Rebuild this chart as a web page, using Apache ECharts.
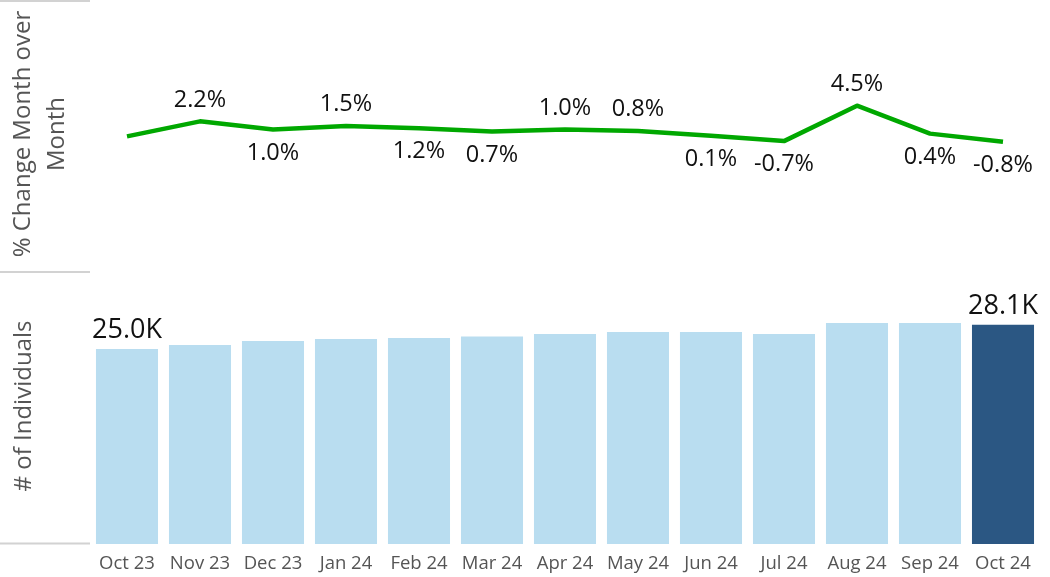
<!DOCTYPE html>
<html>
<head>
<meta charset="utf-8">
<script src="https://cdn.jsdelivr.net/npm/echarts@6/dist/echarts.min.js"></script>
<style>
  html, body { margin: 0; padding: 0; background: #fff; }
  #chart { width: 1050px; height: 577px; }
</style>
</head>
<body>
<div id="chart"></div>
<script>
// months on the x axis
var months = ['Oct 23', 'Nov 23', 'Dec 23', 'Jan 24', 'Feb 24', 'Mar 24', 'Apr 24',
  'May 24', 'Jun 24', 'Jul 24', 'Aug 24', 'Sep 24', 'Oct 24']
// % change month over month (first month has no label)
var pctChange = [0.0, 2.2, 1.0, 1.5, 1.2, 0.7, 1.0, 0.8, 0.1, -0.7, 4.5, 0.4, -0.8]
// # of individuals
var individuals = [25000, 25500, 26000, 26250, 26400, 26600, 26900, 27150, 27150, 26900, 28300, 28300, 28100]

// where each % label sits relative to the line (tableau style placement)
var labelSide = ['', 'top', 'bottom', 'top', 'bottom', 'bottom', 'top', 'top', 'bottom', 'bottom', 'top', 'bottom', 'bottom']

var FONT = 'Open Sans'
var lightBlue = '#b9ddf0'
var darkBlue = '#2b5783'

var chart = echarts.init(document.getElementById('chart'))

var lineData = pctChange.map(function (v, i) {
  var side = labelSide[i]
  return {
    value: v,
    label: {
      show: side !== '',
      position: side || 'top',
      distance: side === 'top' ? 9 : 11
    }
  }
})

var barData = individuals.map(function (v, i) {
  var last = i === individuals.length - 1
  return {
    value: v,
    itemStyle: { color: last ? darkBlue : lightBlue },
    label: { show: i === 0 || last }
  }
})

chart.setOption({
  animation: false,
  grid: [
    { left: 90.5, width: 949, top: 0, height: 272 },
    { left: 90.5, width: 949, top: 272, height: 272 }
  ],
  xAxis: [
    {
      type: 'category',
      gridIndex: 0,
      data: months,
      show: false
    },
    {
      type: 'category',
      gridIndex: 1,
      data: months,
      axisLine: { show: false },
      axisTick: { show: false },
      axisLabel: {
        interval: 0,
        color: '#555',
        fontFamily: FONT,
        fontSize: 18.5,
        margin: 10
      }
    }
  ],
  yAxis: [
    { type: 'value', gridIndex: 0, min: -19.9, max: 20, show: false },
    { type: 'value', gridIndex: 1, min: 0, max: 34850, show: false }
  ],
  graphic: [
    // short grey separators at left
    { type: 'line', shape: { x1: 0, y1: 1, x2: 90, y2: 1 }, style: { stroke: '#d2d2d2', lineWidth: 2 } },
    { type: 'line', shape: { x1: 0, y1: 272, x2: 90, y2: 272 }, style: { stroke: '#d2d2d2', lineWidth: 2 } },
    { type: 'line', shape: { x1: 0, y1: 543.5, x2: 90, y2: 543.5 }, style: { stroke: '#d2d2d2', lineWidth: 2 } },
    {
      type: 'text',
      x: 40, y: 134,
      rotation: Math.PI / 2,
      style: {
        text: '% Change Month over\nMonth',
        font: '24px "Open Sans"',
        fill: '#555',
        align: 'center',
        verticalAlign: 'middle',
        lineHeight: 34
      }
    },
    {
      type: 'text',
      x: 24, y: 406,
      rotation: Math.PI / 2,
      style: {
        text: '# of Individuals',
        font: '24px "Open Sans"',
        fill: '#555',
        align: 'center',
        verticalAlign: 'middle'
      }
    }
  ],
  series: [
    {
      type: 'line',
      xAxisIndex: 0,
      yAxisIndex: 0,
      data: lineData,
      symbol: 'circle',
      symbolSize: 1,
      showSymbol: true,
      itemStyle: { color: 'rgba(0,0,0,0)', borderWidth: 0 },
      lineStyle: { color: '#00a800', width: 4.5, join: 'round' },
      label: {
        show: true,
        color: '#111',
        fontFamily: FONT,
        fontSize: 23.5,
        formatter: function (p) {
          return p.value.toFixed(1) + '%'
        }
      }
    },
    {
      type: 'bar',
      xAxisIndex: 1,
      yAxisIndex: 1,
      data: barData,
      barCategoryGap: '15%',
      label: {
        position: 'top',
        distance: 5,
        color: '#111',
        fontFamily: FONT,
        fontSize: 27,
        formatter: function (p) {
          return (p.value / 1000).toFixed(1) + 'K'
        }
      }
    }
  ]
})
</script>
</body>
</html>
